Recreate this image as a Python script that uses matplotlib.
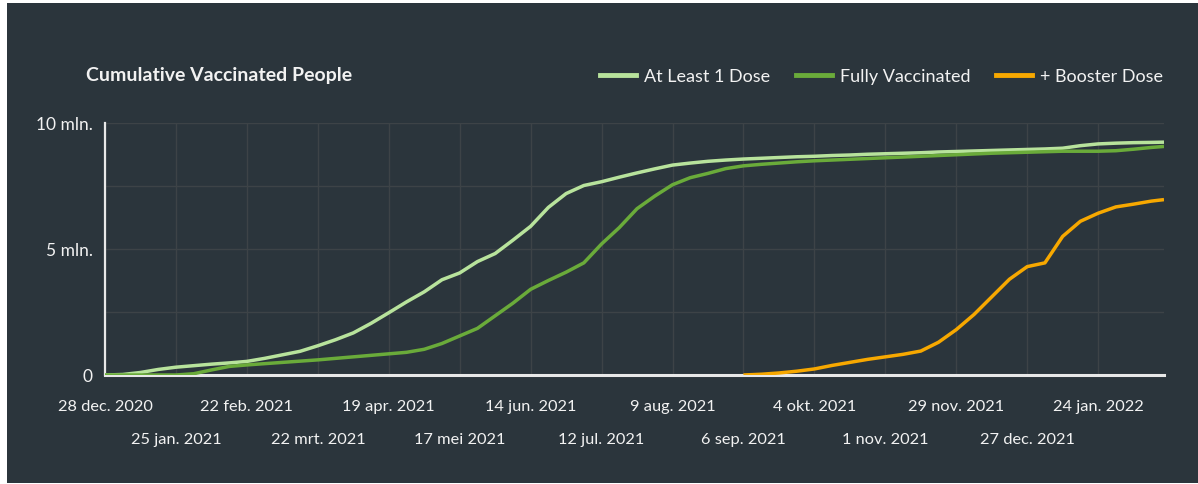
import matplotlib
matplotlib.use("Agg")
import matplotlib.pyplot as plt
from matplotlib.patches import Rectangle
from matplotlib.lines import Line2D
import numpy as np
import pandas as pd

# ---------------- data ----------------
dates = list(pd.date_range("2020-12-28", periods=60, freq="7D")) + [pd.Timestamp("2022-02-19")]

at_least_one = [0.00, 0.02, 0.10, 0.22, 0.31, 0.37, 0.43, 0.48, 0.54, 0.66,
                0.80, 0.94, 1.16, 1.40, 1.67, 2.05, 2.47, 2.90, 3.30, 3.78,
                4.05, 4.50, 4.82, 5.35, 5.90, 6.65, 7.20, 7.52, 7.67, 7.85,
                8.02, 8.18, 8.33, 8.41, 8.48, 8.53, 8.57, 8.60, 8.63, 8.66,
                8.68, 8.71, 8.73, 8.76, 8.78, 8.80, 8.82, 8.85, 8.87, 8.89,
                8.91, 8.93, 8.95, 8.97, 9.00, 9.10, 9.17, 9.20, 9.22, 9.23, 9.24]

fully = [0.00, 0.00, 0.00, 0.00, 0.00, 0.05, 0.20, 0.34, 0.40, 0.45,
         0.50, 0.55, 0.60, 0.66, 0.72, 0.78, 0.84, 0.90, 1.02, 1.25,
         1.55, 1.85, 2.35, 2.85, 3.40, 3.75, 4.08, 4.45, 5.20, 5.85,
         6.60, 7.10, 7.55, 7.83, 8.00, 8.19, 8.30, 8.36, 8.41, 8.46,
         8.50, 8.53, 8.56, 8.59, 8.62, 8.65, 8.68, 8.71, 8.74, 8.77,
         8.80, 8.82, 8.84, 8.86, 8.88, 8.88, 8.88, 8.90, 8.96, 9.03, 9.07]

booster = [np.nan] * 36 + [0.00, 0.03, 0.08, 0.15, 0.24, 0.38, 0.50, 0.62, 0.72, 0.82,
                           0.95, 1.30, 1.80, 2.40, 3.10, 3.80, 4.30, 4.45, 5.50, 6.10,
                           6.42, 6.67, 6.78, 6.90, 6.96]

series_names = ["At Least 1 Dose", "Fully Vaccinated", "+ Booster Dose"]
series_colors = ["#b8e39c", "#6aab3a", "#f7a800"]

tick_dates = list(pd.date_range("2020-12-28", periods=15, freq="28D"))
tick_labels = ["28 dec. 2020", "25 jan. 2021", "22 feb. 2021", "22 mrt. 2021",
               "19 apr. 2021", "17 mei 2021", "14 jun. 2021", "12 jul. 2021",
               "9 aug. 2021", "6 sep. 2021", "4 okt. 2021", "1 nov. 2021",
               "29 nov. 2021", "27 dec. 2021", "24 jan. 2022"]

y_grid = [0, 2.5, 5, 7.5, 10]
y_labels = ["0", "", "5 mln.", "", "10 mln."]
title = "Cumulative Vaccinated People"

# ---------------- style ----------------
BG = "#2b353c"
GRID = "#3d4347"
TXT = "#f2f2f2"
plt.rcParams["font.family"] = ["Lato", "DejaVu Sans"]

fig = plt.figure(figsize=(11.98, 4.85), dpi=100)
fig.patch.set_facecolor("white")
fig.patches.append(Rectangle((7 / 1198, 1 / 485), (1198 - 7) / 1198, (484 - 4) / 485,
                             transform=fig.transFigure, facecolor=BG, edgecolor="none", zorder=-10))

ax = fig.add_axes([105 / 1198, 1 - 376 / 485, (1164 - 105) / 1198, (376 - 124) / 485])
ax.set_facecolor(BG)

for name, col, v in zip(series_names, series_colors, [at_least_one, fully, booster]):
    ax.plot(dates, v, color=col, lw=2.5, solid_capstyle="butt", label=name, zorder=3)

ax.set_xlim(dates[0], dates[-1])
ax.set_ylim(0, 10)

ax.set_xticks(tick_dates[0::2])
ax.set_xticklabels(tick_labels[0::2])
ax.set_xticks(tick_dates[1::2], minor=True)
ax.set_xticklabels(tick_labels[1::2], minor=True)
ax.tick_params(axis="x", which="major", length=0, pad=17, labelsize=11.8, colors=TXT)
ax.tick_params(axis="x", which="minor", length=0, pad=41, labelsize=11.8, colors=TXT)

ax.set_yticks(y_grid)
ax.set_yticklabels(y_labels)
ax.tick_params(axis="y", length=0, pad=9, labelsize=12.5, colors=TXT)

ax.grid(True, which="both", axis="x", color=GRID, lw=1)
ax.grid(True, which="major", axis="y", color=GRID, lw=1)
ax.set_axisbelow(True)

for s in ["top", "right"]:
    ax.spines[s].set_visible(False)
ax.spines["left"].set_color("#e8e8e8")
ax.spines["left"].set_linewidth(1.6)
ax.spines["bottom"].set_color("#e8e8e8")
ax.spines["bottom"].set_linewidth(2.2)

fig.text(86 / 1198, 1 - 75 / 485, title, color=TXT, fontsize=14, fontweight="bold",
         ha="left", va="center")

handles = [Line2D([0], [0], color=c, lw=3.5) for c in series_colors]
fig.legend(handles, series_names, loc="center right",
           bbox_to_anchor=(1163 / 1198, 1 - 77 / 485), ncol=3, frameon=False,
           fontsize=13, labelcolor=TXT, handlelength=2.0, handletextpad=0.45,
           columnspacing=1.4, borderaxespad=0, borderpad=0)

fig.savefig("out.png", dpi=100, facecolor=fig.get_facecolor())
